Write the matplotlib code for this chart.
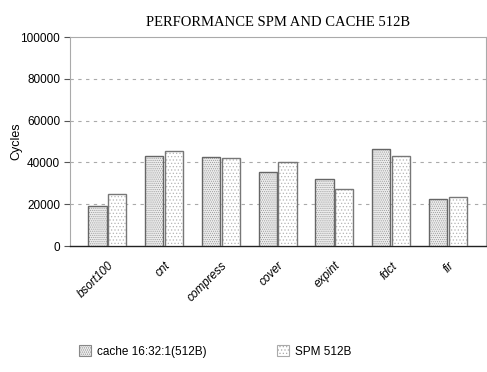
import numpy as np
import matplotlib.pyplot as plt
from matplotlib.patches import Patch

plt.rcParams['font.family'] = 'Liberation Sans'
plt.rcParams['hatch.linewidth'] = 0.5

benchmarks = ['bsort100', 'cnt', 'compress', 'cover', 'expint', 'fdct', 'fir']
cache_512 = [19100, 42900, 42400, 35600, 31900, 46400, 22500]
spm_512 = [24700, 45500, 42000, 40000, 27100, 43100, 23300]
yticks = [0, 20000, 40000, 60000, 80000, 100000]

fig = plt.figure(figsize=(4.87, 3.72), dpi=100)
ax = fig.add_axes([0.1437, 0.3387, 0.854, 0.5618])

x = np.arange(len(benchmarks))
w = 0.32
off = 0.175

# fill + dot pattern first, then the outline on top
ax.bar(x - off, cache_512, w, facecolor='#ececec', edgecolor='#9a9a9a',
       hatch='........', linewidth=0, zorder=3)
ax.bar(x - off, cache_512, w, facecolor='none', edgecolor='#666666',
       linewidth=1.0, zorder=4)
ax.bar(x + off, spm_512, w, facecolor='white', edgecolor='#b5b5b5',
       hatch='.....', linewidth=0, zorder=3)
ax.bar(x + off, spm_512, w, facecolor='none', edgecolor='#777777',
       linewidth=1.0, zorder=4)

ax.set_xlim(-0.66, 6.67)
ax.set_ylim(0, 100000)
ax.set_yticks(yticks)
ax.set_yticklabels([str(t) for t in yticks], fontsize=8.5)
ax.set_xticks(x)
ax.set_xticklabels(benchmarks, rotation=45, ha='right', rotation_mode='anchor',
                   fontsize=8.5, fontstyle='italic')
ax.tick_params(axis='x', length=0, pad=10)
ax.tick_params(axis='y', length=4, width=0.8, color='#555555', pad=3)

for t in yticks[1:-1]:
    ax.axhline(t, color='#aaaaaa', linestyle=(0, (3, 4)), linewidth=0.8, zorder=1)

for s in ['left', 'top', 'right']:
    ax.spines[s].set_color('#aaaaaa')
    ax.spines[s].set_linewidth(0.8)
ax.spines['bottom'].set_color('#222222')
ax.spines['bottom'].set_linewidth(1.0)

ax.set_ylabel('Cycles', fontsize=9)
ax.yaxis.set_label_coords(-0.115, 0.5)
ax.set_title('PERFORMANCE SPM AND CACHE 512B', family='Liberation Serif',
             fontsize=10.5, pad=8, x=0.5)

handles = [
    Patch(facecolor='#ececec', edgecolor='#888888', hatch='........', linewidth=0.8),
    Patch(facecolor='white', edgecolor='#aaaaaa', hatch='.....', linewidth=0.8),
]
fig.legend(handles, ['cache 16:32:1(512B)', 'SPM 512B'], loc='center left',
           bbox_to_anchor=(0.14, 0.055), ncol=2, frameon=False, fontsize=8.5,
           handlelength=1.0, handleheight=1.0, handletextpad=0.5,
           columnspacing=6.0)

fig.savefig('out.png', dpi=100)
